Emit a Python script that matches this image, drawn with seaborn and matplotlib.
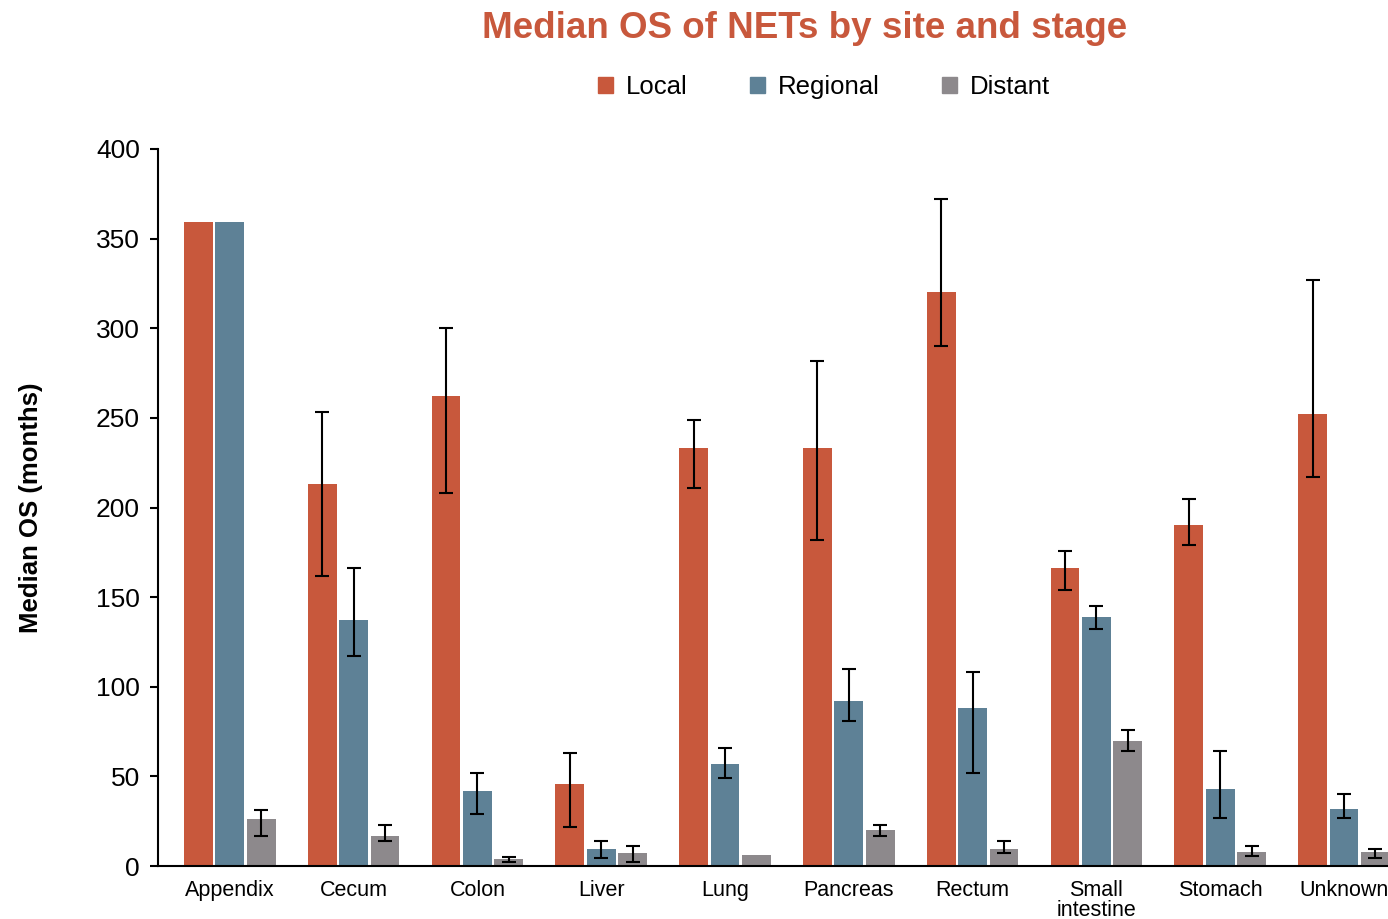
import numpy as np
import pandas as pd
import matplotlib
matplotlib.use("Agg")
import matplotlib.pyplot as plt
import seaborn as sns

# Median overall survival (months) by primary site and stage
sites = ["Appendix", "Cecum", "Colon", "Liver", "Lung", "Pancreas",
         "Rectum", "Small\nintestine", "Stomach", "Unknown"]
stages = ["Local", "Regional", "Distant"]

local_os = [359, 213, 262, 46, 233, 233, 320, 166, 190, 252]
local_lo = [np.nan, 162, 208, 22, 211, 182, 290, 154, 179, 217]
local_hi = [np.nan, 253, 300, 63, 249, 282, 372, 176, 205, 327]

regional_os = [359, 137, 42, 9.5, 57, 92, 88, 139, 43, 32]
regional_lo = [np.nan, 117, 29, 4.5, 49, 81, 52, 132, 27, 27]
regional_hi = [np.nan, 166, 52, 14, 66, 110, 108, 145, 64, 40]

distant_os = [26, 17, 4, 7, 6, 20, 9.5, 70, 8, 8]
distant_lo = [17, 14, 2, 2, np.nan, 17, 7, 64, 5.5, 4.5]
distant_hi = [31, 23, 5, 11, np.nan, 23, 14, 76, 11, 9.5]

yticks = [0, 50, 100, 150, 200, 250, 300, 350, 400]

colors = {"Local": "#C8583C", "Regional": "#5E8196", "Distant": "#8D898C"}

values = {"Local": local_os, "Regional": regional_os, "Distant": distant_os}
lows = {"Local": local_lo, "Regional": regional_lo, "Distant": distant_lo}
highs = {"Local": local_hi, "Regional": regional_hi, "Distant": distant_hi}

df = pd.DataFrame(
    [(s, st, v) for st in stages for s, v in zip(sites, values[st])],
    columns=["site", "stage", "os"],
)

sns.set_style("ticks")
plt.rcParams["font.family"] = ["Liberation Sans", "DejaVu Sans"]
plt.rcParams.update({"text.color": "black", "axes.labelcolor": "black",
                     "xtick.color": "black", "ytick.color": "black"})

fig = plt.figure(figsize=(13.88, 9.19), dpi=100)
W, H = 1388, 919
x_lo, x_hi = -0.58, 9.58
step_px = 123.8
ax_w = (x_hi - x_lo) * step_px
ax = fig.add_axes([158 / W, 53 / H, ax_w / W, 717 / H])

sns.barplot(data=df, x="site", y="os", hue="stage", hue_order=stages,
            order=sites, palette=colors, width=0.76, gap=0.08,
            errorbar=None, linewidth=0, saturation=1, ax=ax, legend=False)

# asymmetric confidence intervals on each bar
for st, cont in zip(stages, ax.containers):
    xs = [b.get_x() + b.get_width() / 2 for b in cont]
    v = np.array(values[st], dtype=float)
    lo = np.array(lows[st], dtype=float)
    hi = np.array(highs[st], dtype=float)
    m = ~np.isnan(lo)
    ax.errorbar(np.array(xs)[m], v[m],
                yerr=[v[m] - lo[m], hi[m] - v[m]],
                fmt="none", ecolor="black", elinewidth=1.5,
                capsize=5.3, capthick=1.5, zorder=5)

ax.set_xlim(x_lo, x_hi)
ax.set_ylim(0, 400)
ax.set_yticks(yticks)
ax.set_xlabel("")
ax.set_ylabel("Median OS (months)", fontsize=18.5, fontweight="bold", labelpad=38)
ax.tick_params(axis="y", labelsize=19, length=6, width=1.5, color="black", pad=7)
ax.tick_params(axis="x", labelsize=15.5, length=0, pad=10)
for lab in ax.get_xticklabels():
    lab.set_linespacing(0.92)
sns.despine(ax=ax)
for sp in ("left", "bottom"):
    ax.spines[sp].set_linewidth(1.5)
    ax.spines[sp].set_color("black")

handles = [plt.Rectangle((0, 0), 1, 1, color=colors[s]) for s in stages]
fig.legend(handles, stages, loc="center", bbox_to_anchor=(824 / W, 1 - 87 / H),
           ncol=3, frameon=False, fontsize=18.5, handlelength=0.6,
           handleheight=0.6, handletextpad=0.5, columnspacing=2.4)

fig.text(805 / W, 1 - 28 / H, "Median OS of NETs by site and stage",
         ha="center", va="center", fontsize=26.5, fontweight="bold",
         color="#C8583C")

fig.savefig("out.png", dpi=100)
